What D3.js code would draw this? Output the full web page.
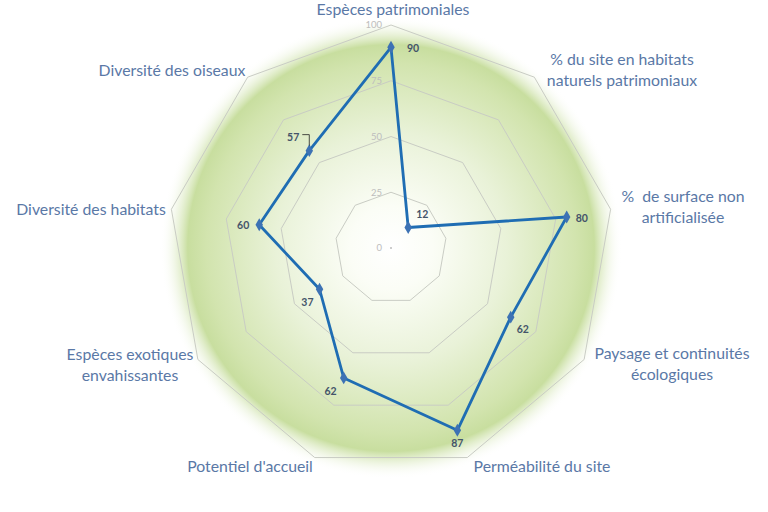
<!DOCTYPE html>
<html>
<head>
<meta charset="utf-8">
<script src="https://cdn.jsdelivr.net/npm/d3@7"></script>
<style>
  body { margin: 0; background: #fff; }
  svg { display: block; }
</style>
</head>
<body>
<div id="vis"></div>
<script>
var width = 768;
var height = 512;
var cx = 391, cy = 248, R = 223;

// data
const CATEGORIES = [
  ["Espèces patrimoniales"],
  ["% du site en habitats", "naturels patrimoniaux"],
  ["%  de surface non", "artificialisée"],
  ["Paysage et continuités", "écologiques"],
  ["Perméabilité du site"],
  ["Potentiel d'accueil"],
  ["Espèces exotiques", "envahissantes"],
  ["Diversité des habitats"],
  ["Diversité des oiseaux"]
];
const VALUES = [90, 12, 80, 62, 87, 62, 37, 60, 57];
const TICKS = [0, 25, 50, 75, 100];

// label layout (text centre for each category, in px)
const LABEL_POS = [
  [393, 9], [622, 70], [683, 207], [672, 364], [542, 466],
  [250, 466], [130, 365], [91, 209], [172, 70]
];
// data label offsets relative to the point
const VAL_OFF = [
  [16, 1, "start"], [8, -13, "start"], [9, 1, "start"], [6, 12, "start"],
  [0, 13, "middle"], [-7, 13, "end"], [-6, 13, "end"], [-10, 1, "end"], [-10, -13, "end"]
];

var svg = d3.select("#vis").append("svg")
  .attr("width", width).attr("height", height);

var defs = svg.append("defs");
var grad = defs.append("radialGradient").attr("id", "bg")
  .attr("cx", 0.5).attr("cy", 0.5).attr("r", 0.5);
grad.append("stop").attr("offset", "0%").attr("stop-color", "#ffffff");
grad.append("stop").attr("offset", "18%").attr("stop-color", "#fbfdf6");
grad.append("stop").attr("offset", "50%").attr("stop-color", "#e9f2d8");
grad.append("stop").attr("offset", "80%").attr("stop-color", "#d2e4ae");
grad.append("stop").attr("offset", "88%").attr("stop-color", "#c8de9f");
grad.append("stop").attr("offset", "100%").attr("stop-color", "#ffffff").attr("stop-opacity", 0);

var r = d3.scaleLinear().domain([0, 100]).range([0, R]);
var n = CATEGORIES.length;
var angle = function (i) { return i * 2 * Math.PI / n; };

var g = svg.append("g").attr("transform", "translate(" + cx + "," + cy + ")");

g.append("circle").attr("r", R + 8).attr("fill", "url(#bg)");

// grid polygons
var gridLine = d3.lineRadial()
  .angle(function (d, i) { return angle(i); })
  .radius(function (d) { return r(d); })
  .curve(d3.curveLinearClosed);

g.selectAll(".grid")
  .data(TICKS.slice(1))
  .enter().append("path")
  .attr("class", "grid")
  .attr("d", function (t) { return gridLine(d3.range(n).map(function () { return t; })); })
  .attr("fill", "none")
  .attr("stroke", "#c9ccc4")
  .attr("stroke-width", 1);

// tick labels
g.selectAll(".tick")
  .data(TICKS)
  .enter().append("text")
  .attr("x", -9)
  .attr("y", function (t) { return -r(t); })
  .attr("dy", "0.35em")
  .attr("text-anchor", "end")
  .attr("font-family", "Lato, 'Open Sans', sans-serif")
  .attr("font-size", 9.5)
  .attr("fill", "#bdbdbd")
  .text(function (t) { return t; });
g.append("circle").attr("r", 1).attr("fill", "#bdbdbd");

// series
var pts = VALUES.map(function (v, i) {
  var a = angle(i);
  return { v: v, x: r(v) * Math.sin(a), y: -r(v) * Math.cos(a) };
});

g.append("path")
  .attr("d", gridLine(VALUES))
  .attr("fill", "none")
  .attr("stroke", "#1f6db3")
  .attr("stroke-width", 2.8)
  .attr("stroke-linejoin", "round");

g.selectAll(".pt")
  .data(pts)
  .enter().append("path")
  .attr("d", d3.symbol().type(d3.symbolDiamond).size(48))
  .attr("transform", function (d) { return "translate(" + d.x + "," + d.y + ")"; })
  .attr("fill", "#3d72b4");

// data labels
g.selectAll(".val")
  .data(pts)
  .enter().append("text")
  .attr("x", function (d, i) { return d.x + VAL_OFF[i][0]; })
  .attr("y", function (d, i) { return d.y + VAL_OFF[i][1]; })
  .attr("dy", "0.35em")
  .attr("text-anchor", function (d, i) { return VAL_OFF[i][2]; })
  .attr("font-family", "Lato, 'Open Sans', sans-serif")
  .attr("font-size", 10.5)
  .attr("font-weight", "bold")
  .attr("fill", "#44546a")
  .text(function (d) { return d.v; });

// leader line for "Diversité des oiseaux"
var p8 = pts[8];
g.append("path")
  .attr("d", "M" + (p8.x - 7) + "," + (p8.y - 16) + "H" + (p8.x) + "V" + (p8.y - 5))
  .attr("fill", "none")
  .attr("stroke", "#222")
  .attr("stroke-width", 0.8);

// category labels
var labels = svg.selectAll(".cat")
  .data(CATEGORIES)
  .enter().append("text")
  .attr("class", "cat")
  .attr("text-anchor", "middle")
  .attr("font-family", "Lato, 'Open Sans', sans-serif")
  .attr("font-size", 15.8)
  .attr("fill", "#5a78a6")
  .attr("transform", function (d, i) {
    return "translate(" + LABEL_POS[i][0] + "," + LABEL_POS[i][1] + ")";
  });

labels.each(function (lines) {
  var t = d3.select(this);
  var off = (lines.length - 1) * 10.5;
  lines.forEach(function (line, k) {
    t.append("tspan")
      .attr("x", 0)
      .attr("y", k * 21 - off)
      .attr("dy", "0.35em")
      .attr("xml:space", "preserve")
      .text(line);
  });
});
</script>
</body>
</html>
